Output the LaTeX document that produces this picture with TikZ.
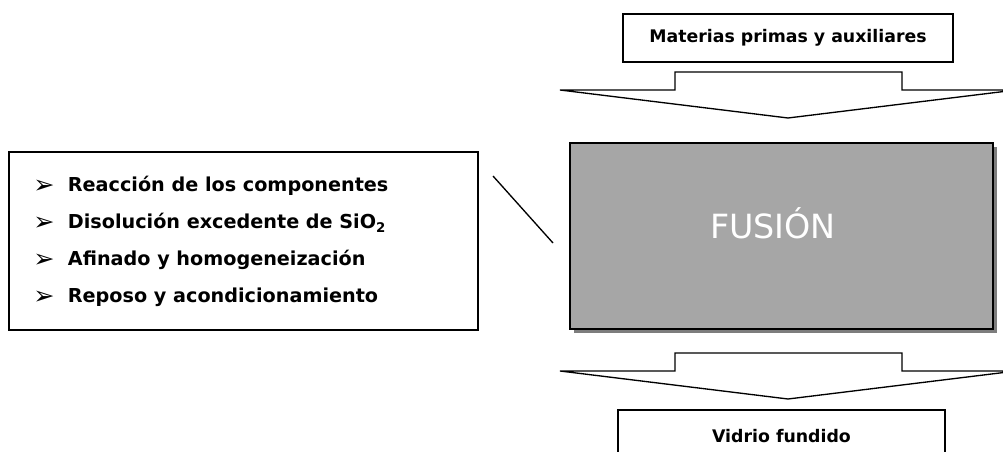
\documentclass[tikz,border=0pt]{standalone}
\usepackage{fontspec}
\setmainfont{DejaVu Sans}
\definecolor{fusiongray}{RGB}{166,166,166}
\definecolor{shadowgray}{RGB}{125,125,125}
\newcommand\itembullet{\makebox[26pt][l]{\fontsize{19}{19}\selectfont\raisebox{-1pt}{➢}}}
\tikzset{
  textbox/.style={draw,line width=1.2pt,fill=white,inner sep=0pt,font=\bfseries\fontsize{13}{15}\selectfont},
  listitem/.style={anchor=base west,inner sep=0pt,font=\bfseries\fontsize{14.4}{16}\selectfont},
  blockarrow/.style={draw,line width=1pt,fill=white,line join=miter},
}
\begin{document}
\begin{tikzpicture}[x=0.75pt,y=-0.75pt]
\clip(0,0)rectangle(1003,452);
%\draw[red](0,0)rectangle(1003,452);
\node[textbox,minimum width=247.5pt,minimum height=36pt](inputs)at(788,38){Materias primas y auxiliares};
\fill[shadowgray](574,147)rectangle(997,333);
\node[draw,line width=1.2pt,fill=fusiongray,minimum width=317.25pt,minimum height=139.5pt,inner sep=0pt](fusion)at(781.5,236){};
\node[text=white,font=\fontsize{25}{28}\selectfont,inner sep=0pt](fusionlabel)at(773,223){FUSIÓN};
\node[textbox,minimum width=245.25pt,minimum height=39pt](output)at(781.5,436){Vidrio fundido};
% block arrows above and below the furnace
\foreach \t in {72,353}
  \draw[blockarrow](675,\t)--(902,\t)--(902,\t+18)--(1016,\t+18)--(788,\t+46)--(560,\t+18)--(675,\t+18)--cycle;
\node[draw,line width=1.5pt,minimum width=351.75pt,minimum height=133.5pt,inner sep=0pt](steps)at(243.5,241){};
\node[listitem](item1)at(33,192){\itembullet Reacción de los componentes};
\node[listitem](item2)at(33,229){\itembullet Disolución excedente de SiO\textsubscript{2}};
\node[listitem](item3)at(33,266){\itembullet Afinado y homogeneización};
\node[listitem](item4)at(33,303){\itembullet Reposo y acondicionamiento};
\coordinate(link1)at(493,176);
\coordinate(link2)at(553,243);
\draw[line width=1pt](link1)--(link2);
\end{tikzpicture}
\end{document}
